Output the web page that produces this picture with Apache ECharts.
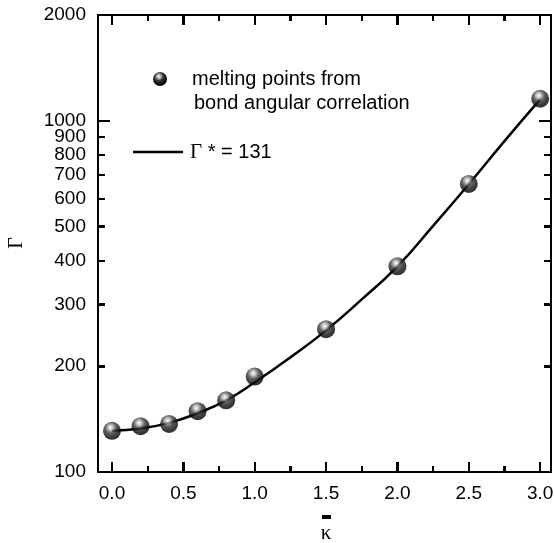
<!DOCTYPE html>
<html>
<head>
<meta charset="utf-8">
<script src="https://cdn.jsdelivr.net/npm/echarts@6/dist/echarts.min.js"></script>
<style>
  html, body { margin: 0; padding: 0; background: #fff; }
  #chart { width: 554px; height: 543px; }
</style>
</head>
<body>
<div id="chart"></div>
<script>
// melting points (bond angular correlation)
const kappaPts = [0, 0.2, 0.4, 0.6, 0.8, 1.0, 1.5, 2.0, 2.5, 3.0];
const gammaPts = [131, 135, 137, 149, 160, 187, 255, 385, 661, 1155];
// fitted curve, Gamma* = 131
const kappaFit = [0, 0.2, 0.4, 0.6, 0.8, 1.0, 1.25, 1.5, 1.75, 2.0, 2.25, 2.5, 2.75, 3.0];
const gammaFit = [131, 133, 138, 147, 160, 180, 212, 253, 310, 385, 502, 660, 875, 1150];
// axis ticks
const xMajor = [0, 0.5, 1.0, 1.5, 2.0, 2.5, 3.0];
const xMinor = [0.25, 0.75, 1.25, 1.75, 2.25, 2.75];
const yLabels = [100, 200, 300, 400, 500, 600, 700, 800, 900, 1000, 2000];
const yMajor = [100, 1000];
const yMinor = [200, 300, 400, 500, 600, 700, 800, 900, 2000];

const sans = '"Liberation Sans", Arial, Helvetica, sans-serif';
const serif = '"Liberation Serif", "DejaVu Serif", serif';
const X_MIN = -0.098, X_MAX = 3.076;
const Y_MIN = 100, Y_MAX = 2000;

// glossy ball fill, a new object for every user
function sphere() {
  return {
    type: 'radial', x: 0.42, y: 0.32, r: 0.68,
    colorStops: [
      { offset: 0, color: '#ffffff' },
      { offset: 0.18, color: '#bdbdbd' },
      { offset: 0.45, color: '#3a3a3a' },
      { offset: 0.8, color: '#080808' },
      { offset: 1, color: '#000000' }
    ]
  };
}

// all grids share the same rectangle, one per tick set
function grid() {
  return { left: 98, right: 3, top: 15, bottom: 71, containLabel: false, outerBoundsMode: 'none' };
}

function xAx(g, pos, ticks, len, labels) {
  return {
    gridIndex: g, type: 'value', position: pos, min: X_MIN, max: X_MAX,
    axisLine: { show: true, onZero: false, lineStyle: { color: '#000', width: 2 } },
    axisTick: { show: true, inside: true, length: len, customValues: ticks,
      lineStyle: { color: '#000', width: 2 } },
    axisLabel: labels ? { show: true, customValues: xMajor, margin: 12,
      color: '#000', fontSize: 19, fontFamily: sans,
      formatter: v => Number(v).toFixed(1) } : { show: false },
    splitLine: { show: false }
  };
}

function yAx(g, pos, ticks, len, labels) {
  return {
    gridIndex: g, type: 'log', logBase: 10, position: pos, min: Y_MIN, max: Y_MAX,
    axisLine: { show: true, onZero: false, lineStyle: { color: '#000', width: 2 } },
    axisTick: { show: true, inside: true, length: len, customValues: ticks,
      lineStyle: { color: '#000', width: 2 } },
    axisLabel: labels ? { show: true, customValues: yLabels, margin: 12,
      color: '#000', fontSize: 19, fontFamily: sans,
      formatter: v => String(Math.round(Number(v))) } : { show: false },
    splitLine: { show: false },
    minorTick: { show: false }
  };
}

// tick marks placed with the axes' own scales (on top, in case axis ticks get hidden)
function tickSeries(points, dx, dy) {
  return {
    type: 'custom', xAxisIndex: 0, yAxisIndex: 0, clip: false, silent: true, z: 10,
    data: points,
    renderItem: (params, api) => {
      const p = api.coord([api.value(0), api.value(1)]);
      const x = Math.round(p[0]), y = Math.round(p[1]);
      return { type: 'line', shape: { x1: x, y1: y, x2: x + dx, y2: y + dy },
        style: { stroke: '#000', lineWidth: 2 } };
    }
  };
}

const chart = echarts.init(document.getElementById('chart'));

chart.setOption({
  animation: false,
  backgroundColor: '#fff',
  grid: [grid(), grid(), grid(), grid()],
  xAxis: [
    xAx(0, 'bottom', xMajor, 10, true),
    xAx(1, 'bottom', xMinor, 6, false),
    xAx(2, 'top', xMajor, 10, false),
    xAx(3, 'top', xMinor, 6, false)
  ],
  yAxis: [
    yAx(0, 'left', yMajor, 12, true),
    yAx(1, 'left', yMinor, 7, false),
    yAx(2, 'right', yMajor, 12, false),
    yAx(3, 'right', yMinor, 7, false)
  ],
  series: [
    {
      type: 'line', name: 'fit', smooth: true, showSymbol: false, clip: false,
      xAxisIndex: 0, yAxisIndex: 0,
      data: kappaFit.map((k, i) => [k, gammaFit[i]]),
      lineStyle: { color: '#000', width: 2.5 }, z: 2
    },
    {
      type: 'scatter', name: 'melting points',
      xAxisIndex: 0, yAxisIndex: 0,
      data: kappaPts.map((k, i) => [k, gammaPts[i]]),
      symbolSize: 18,
      itemStyle: { color: sphere() }, z: 3
    },
    tickSeries(xMajor.map(v => [v, Y_MIN]), 0, -10),
    tickSeries(xMinor.map(v => [v, Y_MIN]), 0, -6),
    tickSeries(xMajor.map(v => [v, Y_MAX]), 0, 10),
    tickSeries(xMinor.map(v => [v, Y_MAX]), 0, 6),
    tickSeries(yMajor.map(v => [X_MIN, v]), 12, 0),
    tickSeries(yMinor.map(v => [X_MIN, v]), 7, 0),
    tickSeries(yMajor.map(v => [X_MAX, v]), -12, 0),
    tickSeries(yMinor.map(v => [X_MAX, v]), -7, 0)
  ],
  graphic: [
    // axis titles
    { type: 'text', x: 17, y: 243, rotation: Math.PI / 2,
      style: { text: 'Γ', font: '20px ' + serif, fill: '#000', align: 'center', verticalAlign: 'middle' } },
    { type: 'rect', shape: { x: 322, y: 515, width: 9, height: 4 }, style: { fill: '#000' } },
    { type: 'text', x: 326, y: 533,
      style: { text: 'κ', font: '21px ' + serif, fill: '#000', align: 'center', verticalAlign: 'middle' } },
    // legend
    { type: 'circle', shape: { cx: 160, cy: 79, r: 7 }, style: { fill: sphere() } },
    { type: 'text', x: 192, y: 79, style: { text: 'melting points from', font: '20px ' + sans, fill: '#000', verticalAlign: 'middle' } },
    { type: 'text', x: 194, y: 103, style: { text: 'bond angular correlation', font: '20px ' + sans, fill: '#000', verticalAlign: 'middle' } },
    { type: 'line', shape: { x1: 133, y1: 152, x2: 183, y2: 152 }, style: { stroke: '#000', lineWidth: 2.5 } },
    { type: 'text', x: 190, y: 152, style: {
      text: '{g|Γ} * = 131', verticalAlign: 'middle', fill: '#000',
      rich: { g: { fontFamily: serif, fontSize: 21, fill: '#000' } },
      font: '20px ' + sans } }
  ]
});
</script>
</body>
</html>
